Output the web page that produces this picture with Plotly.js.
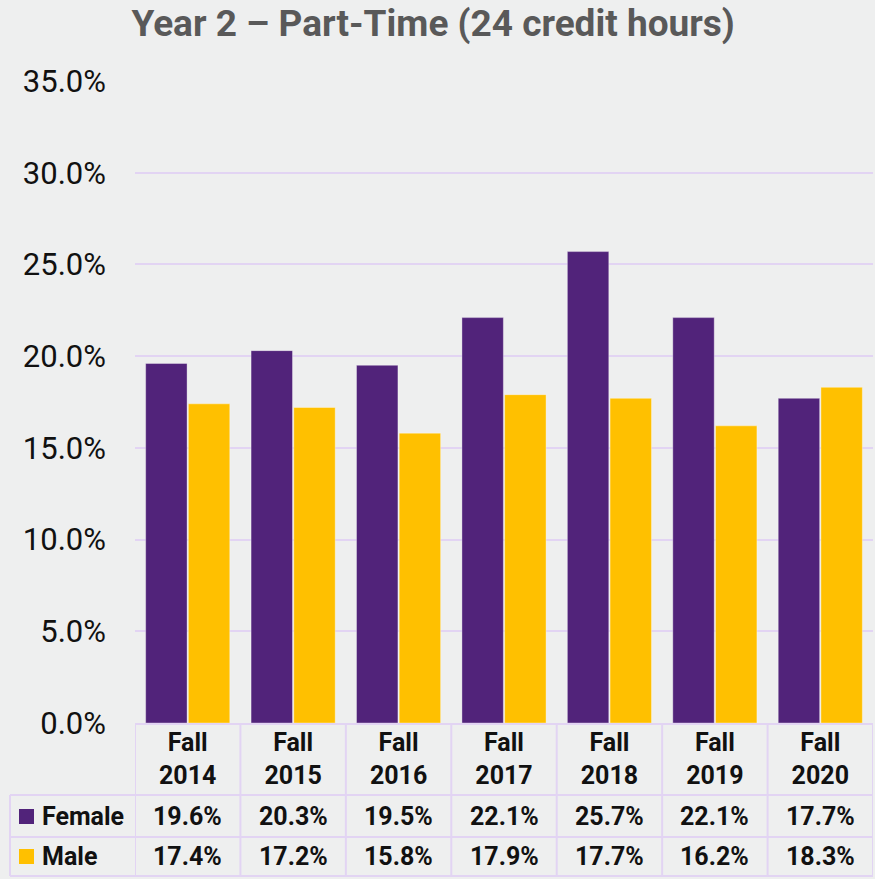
<!DOCTYPE html>
<html>
<head>
<meta charset="utf-8">
<script src="https://cdn.plot.ly/plotly-3.0.1.min.js"></script>
<style>html,body{margin:0;padding:0;background:#eeefef;}#chart{width:875px;height:879px;}</style>
</head>
<body>
<div id="chart"></div>
<script>
const categories = ["Fall 2014", "Fall 2015", "Fall 2016", "Fall 2017", "Fall 2018", "Fall 2019", "Fall 2020"];
const femaleValues = [19.6, 20.3, 19.5, 22.1, 25.7, 22.1, 17.7];
const maleValues = [17.4, 17.2, 15.8, 17.9, 17.7, 16.2, 18.3];
const seriesNames = ["Female", "Male"];
const seriesColors = ["#51237a", "#ffc000"];
const titleText = "Year 2 \u2013 Part-Time (24 credit hours)";

const W = 875, H = 879;
const M = {l: 135, r: 2, t: 81, b: 156};
const plotH = H - M.t - M.b;
const plotW = W - M.l - M.r;
const plotBottom = H - M.b;
// pixel -> paper helpers (layout geometry only)
const py = p => (plotBottom - p) / plotH;
const px = p => (p - M.l) / plotW;

const gridColor = "#e2d4f3";
const font = "Roboto, 'Noto Sans', sans-serif";

const seriesValues = [femaleValues, maleValues];
const traces = seriesNames.map((name, i) => ({
  type: "bar",
  name: name,
  x: categories,
  y: seriesValues[i],
  marker: {color: seriesColors[i], line: {color: "rgba(255,255,255,0.35)", width: 1}},
  hoverinfo: "skip"
}));

const shapes = [];
const annotations = [];
const lineStyle = {color: gridColor, width: 2};
// table grid
const headerTop = 724, rowLines = [795, 837, 876];
shapes.push({type: "line", xref: "paper", yref: "paper", x0: 0, x1: 1, y0: py(headerTop), y1: py(headerTop), line: lineStyle});
rowLines.forEach(r => shapes.push({type: "line", xref: "paper", yref: "paper", x0: px(10), x1: 1, y0: py(r), y1: py(r), line: lineStyle}));
for (let i = 0; i <= categories.length; i++) {
  shapes.push({type: "line", xref: "x", yref: "paper", x0: i - 0.5, x1: i - 0.5, y0: py(headerTop), y1: py(876), line: lineStyle});
}
shapes.push({type: "line", xref: "paper", yref: "paper", x0: px(10), x1: px(10), y0: py(795), y1: py(876), line: lineStyle});

const rowCenters = [816, 856];
seriesNames.forEach((name, s) => {
  const yc = rowCenters[s];
  shapes.push({type: "rect", xref: "paper", yref: "paper", x0: px(19), x1: px(34), y0: py(yc + 8), y1: py(yc - 7), fillcolor: seriesColors[s], line: {width: 0}});
  annotations.push({xref: "paper", yref: "paper", x: px(40), y: py(yc), xanchor: "left", yanchor: "middle", showarrow: false, text: name, font: {family: font, size: 25, color: "#111", weight: "bold"}});
  categories.forEach((c, i) => {
    annotations.push({xref: "x", yref: "paper", x: c, y: py(yc), xanchor: "center", yanchor: "middle", showarrow: false, text: seriesValues[s][i].toFixed(1) + "%", font: {family: font, size: 25, color: "#111", weight: "bold"}});
  });
});

const layout = {
  width: W, height: H,
  margin: M,
  paper_bgcolor: "#eeefef",
  plot_bgcolor: "rgba(0,0,0,0)",
  showlegend: false,
  barmode: "group",
  bargap: 0.19,
  bargroupgap: 0.03,
  title: {text: titleText, x: 0.495, xanchor: "center", y: 1 - 23 / H, yanchor: "middle", yref: "container", font: {family: font, size: 37, color: "#595959", weight: "bold"}},
  xaxis: {
    type: "category",
    range: [-0.5, categories.length - 0.5],
    tickvals: categories,
    ticktext: categories.map(c => c.replace(" ", "<br>")),
    tickfont: {family: font, size: 25, color: "#111", weight: "bold"},
    showgrid: false, zeroline: false, showline: false, ticks: "",
    ticklabelstandoff: 2
  },
  yaxis: {
    range: [0, 35],
    dtick: 5,
    tickformat: ".1f",
    ticksuffix: "%",
    tickfont: {family: font, size: 31, color: "#111"},
    gridcolor: gridColor, gridwidth: 2,
    zeroline: false, showline: false, ticks: "",
    ticklabelstandoff: 28
  },
  shapes: shapes,
  annotations: annotations
};

Plotly.newPlot("chart", traces, layout, {displayModeBar: false, staticPlot: true});
</script>
</body>
</html>
